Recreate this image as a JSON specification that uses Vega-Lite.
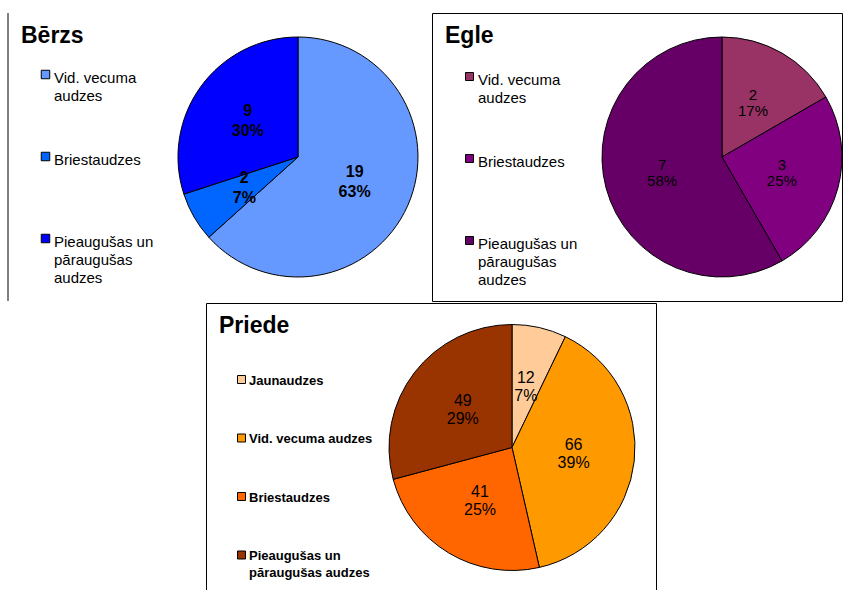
{
  "$schema": "https://vega.github.io/schema/vega-lite/v6.json",
  "padding": {"left": 7, "top": 12, "right": 0, "bottom": 0},
  "autosize": {"type": "pad"},
  "background": "white",
  "config": {"view": {"stroke": "black", "strokeWidth": 1}, "font": "Liberation Sans"},
  "spacing": 0,
  "resolve": {"scale": {"color": "independent", "theta": "independent", "x": "independent"}, "legend": {"color": "independent"}},
  "vconcat": [
    {
      "hconcat": [
        {
          "width": 421,
          "height": 288,
          "view": {"stroke": null},
          "title": {"text": "Bērzs", "anchor": "start", "frame": "group", "offset": -53, "dx": 13, "fontSize": 23, "font": "Liberation Sans", "fontWeight": "bold", "color": "black", "baseline": "alphabetic"},
          "data": {"values": [
            {"k": "Vid. vecuma audzes", "v": 19, "pct": "63%", "o": 1},
            {"k": "Briestaudzes", "v": 2, "pct": "7%", "o": 2},
            {"k": "Pieaugušas un pāraugušas audzes", "v": 9, "pct": "30%", "o": 3}
          ]},
          "layer": [
            {
              "data": {"values": [{}]},
              "mark": {"type": "rule", "color": "black", "strokeWidth": 1},
              "encoding": {"x": {"datum": 0, "type": "quantitative", "scale": {"domain": [0, 1], "nice": false, "zero": false}, "axis": null}}
            },
            {
              "mark": {"type": "arc", "outerRadius": 120, "stroke": "black", "strokeWidth": 1},
              "encoding": {
                "theta": {"field": "v", "type": "quantitative", "stack": true},
                "order": {"field": "o", "type": "quantitative"},
                "x": {"datum": 0.6888, "type": "quantitative"},
                "color": {
                  "field": "k", "type": "nominal",
                  "scale": {"domain": ["Vid. vecuma audzes", "Briestaudzes", "Pieaugušas un pāraugušas audzes"], "range": ["#6699FF", "#0066FF", "#0000FF"]},
                  "legend": {
                    "orient": "none", "legendX": 30, "legendY": 54, "title": null,
                    "symbolType": "square", "symbolSize": 72, "symbolStrokeColor": "black", "symbolStrokeWidth": 1,
                    "labelFont": "Liberation Sans", "labelFontSize": 15, "labelFontWeight": "normal", "labelColor": "black",
                    "labelBaseline": "top", "labelOffset": 1, "labelLimit": 400, "rowPadding": 27, "gridAlign": "all",
                    "labelExpr": "datum.label == 'Vid. vecuma audzes' ? ['Vid. vecuma', 'audzes'] : datum.label == 'Pieaugušas un pāraugušas audzes' ? ['Pieaugušas un', 'pāraugušas', 'audzes'] : datum.label",
                    "encode": {"labels": {"update": {"dy": {"value": -4}, "lineHeight": {"value": 18}}}}
                  }
                }
              }
            },
            {
              "mark": {"type": "text", "radius": 62, "dy": -10, "font": "Liberation Sans", "fontSize": 16, "fontWeight": "bold", "color": "black"},
              "encoding": {
                "theta": {"field": "v", "type": "quantitative", "stack": true},
                "order": {"field": "o", "type": "quantitative"},
                "detail": {"field": "k", "type": "nominal"},
                "x": {"datum": 0.6888, "type": "quantitative"},
                "text": {"field": "v", "type": "quantitative"}
              }
            },
            {
              "mark": {"type": "text", "radius": 62, "dy": 10, "font": "Liberation Sans", "fontSize": 16, "fontWeight": "bold", "color": "black"},
              "encoding": {
                "theta": {"field": "v", "type": "quantitative", "stack": true},
                "order": {"field": "o", "type": "quantitative"},
                "detail": {"field": "k", "type": "nominal"},
                "x": {"datum": 0.6888, "type": "quantitative"},
                "text": {"field": "pct", "type": "nominal"}
              }
            }
          ]
        },
        {
          "width": 410,
          "height": 288,
          "title": {"text": "Egle", "anchor": "start", "frame": "group", "offset": -53, "dx": 13, "fontSize": 23, "font": "Liberation Sans", "fontWeight": "bold", "color": "black", "baseline": "alphabetic"},
          "data": {"values": [
            {"k": "Vid. vecuma audzes", "v": 2, "pct": "17%", "o": 1},
            {"k": "Briestaudzes", "v": 3, "pct": "25%", "o": 2},
            {"k": "Pieaugušas un pāraugušas audzes", "v": 7, "pct": "58%", "o": 3}
          ]},
          "layer": [
            {
              "mark": {"type": "arc", "outerRadius": 120, "stroke": "black", "strokeWidth": 1},
              "encoding": {
                "theta": {"field": "v", "type": "quantitative", "stack": true},
                "order": {"field": "o", "type": "quantitative"},
                "x": {"datum": 0.7073, "type": "quantitative", "scale": {"domain": [0, 1], "nice": false, "zero": false}, "axis": null},
                "color": {
                  "field": "k", "type": "nominal",
                  "scale": {"domain": ["Vid. vecuma audzes", "Briestaudzes", "Pieaugušas un pāraugušas audzes"], "range": ["#993366", "#800080", "#660066"]},
                  "legend": {
                    "orient": "none", "legendX": 30, "legendY": 56, "title": null,
                    "symbolType": "square", "symbolSize": 64, "symbolStrokeColor": "black", "symbolStrokeWidth": 1,
                    "labelFont": "Liberation Sans", "labelFontSize": 15, "labelFontWeight": "normal", "labelColor": "black",
                    "labelBaseline": "top", "labelOffset": 1, "labelLimit": 400, "rowPadding": 27, "gridAlign": "all",
                    "labelExpr": "datum.label == 'Vid. vecuma audzes' ? ['Vid. vecuma', 'audzes'] : datum.label == 'Pieaugušas un pāraugušas audzes' ? ['Pieaugušas un', 'pāraugušas', 'audzes'] : datum.label",
                    "encode": {"labels": {"update": {"dy": {"value": -4}, "lineHeight": {"value": 18}}}}
                  }
                }
              }
            },
            {
              "mark": {"type": "text", "radius": 62, "dy": -8, "font": "Liberation Sans", "fontSize": 15, "color": "black"},
              "encoding": {
                "theta": {"field": "v", "type": "quantitative", "stack": true},
                "order": {"field": "o", "type": "quantitative"},
                "detail": {"field": "k", "type": "nominal"},
                "x": {"datum": 0.7073, "type": "quantitative"},
                "text": {"field": "v", "type": "quantitative"}
              }
            },
            {
              "mark": {"type": "text", "radius": 62, "dy": 8, "font": "Liberation Sans", "fontSize": 15, "color": "black"},
              "encoding": {
                "theta": {"field": "v", "type": "quantitative", "stack": true},
                "order": {"field": "o", "type": "quantitative"},
                "detail": {"field": "k", "type": "nominal"},
                "x": {"datum": 0.7073, "type": "quantitative"},
                "text": {"field": "pct", "type": "nominal"}
              }
            }
          ]
        }
      ],
      "spacing": 2,
      "resolve": {"scale": {"color": "independent", "theta": "independent", "x": "independent"}, "legend": {"color": "independent"}}
    },
    {
      "hconcat": [
        {
          "width": 195,
          "height": 10,
          "view": {"stroke": null},
          "data": {"values": [{}]},
          "mark": {"type": "rule", "opacity": 0},
          "encoding": {}
        },
        {
          "width": 450,
          "height": 289,
          "title": {"text": "Priede", "anchor": "start", "frame": "group", "offset": -53, "dx": 13, "fontSize": 23, "font": "Liberation Sans", "fontWeight": "bold", "color": "black", "baseline": "alphabetic"},
          "data": {"values": [
            {"k": "Jaunaudzes", "v": 12, "pct": "7%", "o": 1},
            {"k": "Vid. vecuma audzes", "v": 66, "pct": "39%", "o": 2},
            {"k": "Briestaudzes", "v": 41, "pct": "25%", "o": 3},
            {"k": "Pieaugušas un pāraugušas audzes", "v": 49, "pct": "29%", "o": 4}
          ]},
          "layer": [
            {
              "mark": {"type": "arc", "outerRadius": 123, "stroke": "black", "strokeWidth": 1},
              "encoding": {
                "theta": {"field": "v", "type": "quantitative", "stack": true},
                "order": {"field": "o", "type": "quantitative"},
                "x": {"datum": 0.68, "type": "quantitative", "scale": {"domain": [0, 1], "nice": false, "zero": false}, "axis": null},
                "color": {
                  "field": "k", "type": "nominal",
                  "scale": {"domain": ["Jaunaudzes", "Vid. vecuma audzes", "Briestaudzes", "Pieaugušas un pāraugušas audzes"], "range": ["#FFCC99", "#FF9900", "#FF6600", "#993300"]},
                  "legend": {
                    "orient": "none", "legendX": 29, "legendY": 70, "title": null,
                    "symbolType": "square", "symbolSize": 64, "symbolStrokeColor": "black", "symbolStrokeWidth": 1,
                    "labelFont": "Liberation Sans", "labelFontSize": 13, "labelFontWeight": "bold", "labelColor": "black",
                    "labelBaseline": "top", "labelOffset": 1, "labelLimit": 400, "rowPadding": 26.5, "gridAlign": "all",
                    "labelExpr": "datum.label == 'Pieaugušas un pāraugušas audzes' ? ['Pieaugušas un', 'pāraugušas audzes'] : datum.label",
                    "encode": {"labels": {"update": {"dy": {"value": -5}, "lineHeight": {"value": 17}}}}
                  }
                }
              }
            },
            {
              "mark": {"type": "text", "radius": 62, "dy": -9, "font": "Liberation Sans", "fontSize": 16, "color": "black"},
              "encoding": {
                "theta": {"field": "v", "type": "quantitative", "stack": true},
                "order": {"field": "o", "type": "quantitative"},
                "detail": {"field": "k", "type": "nominal"},
                "x": {"datum": 0.68, "type": "quantitative"},
                "text": {"field": "v", "type": "quantitative"}
              }
            },
            {
              "mark": {"type": "text", "radius": 62, "dy": 9, "font": "Liberation Sans", "fontSize": 16, "color": "black"},
              "encoding": {
                "theta": {"field": "v", "type": "quantitative", "stack": true},
                "order": {"field": "o", "type": "quantitative"},
                "detail": {"field": "k", "type": "nominal"},
                "x": {"datum": 0.68, "type": "quantitative"},
                "text": {"field": "pct", "type": "nominal"}
              }
            }
          ]
        }
      ],
      "spacing": 2,
      "resolve": {"scale": {"color": "independent", "theta": "independent", "x": "independent"}, "legend": {"color": "independent"}}
    }
  ]
}
